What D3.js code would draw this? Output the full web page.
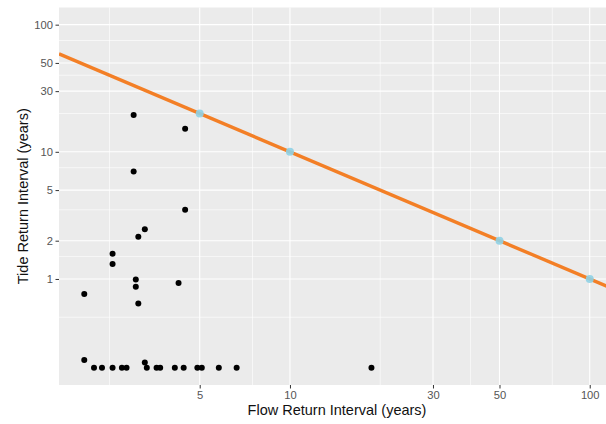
<!DOCTYPE html>
<html>
<head>
<meta charset="utf-8">
<script src="https://cdn.jsdelivr.net/npm/d3@7"></script>
<style>
	body { margin: 0; background: #fff; }
	text { font-family: "Liberation Sans", Arial, sans-serif; }
</style>
</head>
<body>
<svg></svg>
<script>
// observed events (return intervals in years)
const flowRI = [2.06, 2.06, 2.22, 2.36, 2.56, 2.56, 2.56, 2.75, 2.85, 3.01,
	3.01, 3.06, 3.06, 3.12, 3.12, 3.28, 3.28, 3.33, 3.59, 3.69,
	4.13, 4.25, 4.42, 4.47, 4.47, 4.91, 5.08, 5.79, 6.64, 18.7];
const tideRI = [0.76, 0.23, 0.2, 0.2, 0.2, 1.58, 1.31, 0.2, 0.2, 19.5,
	7.0, 0.99, 0.87, 0.64, 2.15, 2.46, 0.22, 0.2, 0.2, 0.2,
	0.2, 0.93, 0.2, 15.2, 3.51, 0.2, 0.2, 0.2, 0.2, 0.2];

// design combinations on the joint curve
const designFlow = [5, 10, 50, 100];
const designTide = [20, 10, 2, 1];

const xBreaks = [5, 10, 30, 50, 100];
const xMinor = [2.5, 7.5, 20, 40, 75];
const yBreaks = [1, 2, 5, 10, 30, 50, 100];
const yMinor = [0.5, 1.5, 3.5, 7.5, 20, 40, 75];
const xLim = [2.06, 100];
const yLim = [0.2, 100];

const width = 606;
const height = 424;
const panel = {left: 59, right: 615, top: 7.5, bottom: 385};

// ggplot style 5% expansion in log space
function expand(lim) {
	const a = Math.log10(lim[0]), b = Math.log10(lim[1]);
	const e = (b - a) * 0.05;
	return [Math.pow(10, a - e), Math.pow(10, b + e)];
}

const x = d3.scaleLog().domain(expand(xLim)).range([panel.left, panel.right]);
const y = d3.scaleLog().domain(expand(yLim)).range([panel.bottom, panel.top]);

const svg = d3.select('svg')
	.attr('width', width)
	.attr('height', height);

svg.append('defs').append('clipPath')
	.attr('id', 'clip')
	.append('rect')
		.attr('x', panel.left)
		.attr('y', panel.top)
		.attr('width', panel.right - panel.left)
		.attr('height', panel.bottom - panel.top);

svg.append('rect')
	.attr('x', panel.left)
	.attr('y', panel.top)
	.attr('width', panel.right - panel.left)
	.attr('height', panel.bottom - panel.top)
	.attr('fill', '#ebebeb');

const grid = svg.append('g');

grid.selectAll('.yminor')
	.data(yMinor)
	.enter().append('line')
		.attr('x1', panel.left).attr('x2', panel.right)
		.attr('y1', d => y(d)).attr('y2', d => y(d))
		.attr('stroke', '#fff').attr('stroke-width', 0.6);

grid.selectAll('.xminor')
	.data(xMinor)
	.enter().append('line')
		.attr('y1', panel.top).attr('y2', panel.bottom)
		.attr('x1', d => x(d)).attr('x2', d => x(d))
		.attr('stroke', '#fff').attr('stroke-width', 0.6);

grid.selectAll('.ymajor')
	.data(yBreaks)
	.enter().append('line')
		.attr('x1', panel.left).attr('x2', panel.right)
		.attr('y1', d => y(d)).attr('y2', d => y(d))
		.attr('stroke', '#fff').attr('stroke-width', 1.1);

grid.selectAll('.xmajor')
	.data(xBreaks)
	.enter().append('line')
		.attr('y1', panel.top).attr('y2', panel.bottom)
		.attr('x1', d => x(d)).attr('x2', d => x(d))
		.attr('stroke', '#fff').attr('stroke-width', 1.1);

// axes
const xAxis = svg.append('g')
	.attr('transform', `translate(0,${panel.bottom})`)
	.call(d3.axisBottom(x).tickValues(xBreaks).tickFormat(d3.format('d')).tickSize(3.5).tickPadding(2.5));
const yAxis = svg.append('g')
	.attr('transform', `translate(${panel.left},0)`)
	.call(d3.axisLeft(y).tickValues(yBreaks).tickFormat(d3.format('d')).tickSize(3.5).tickPadding(2.5));

[xAxis, yAxis].forEach(g => {
	g.select('.domain').remove();
	g.selectAll('.tick line').attr('stroke', '#333').attr('stroke-width', 1);
	g.selectAll('.tick text')
		.attr('fill', '#555')
		.attr('font-size', 11.2)
		.attr('font-family', '"Liberation Sans", Arial, sans-serif');
});

svg.append('text')
	.attr('x', (panel.left + panel.right) / 2)
	.attr('y', 415)
	.attr('text-anchor', 'middle')
	.attr('font-size', 14.5)
	.attr('fill', '#111')
	.text('Flow Return Interval (years)');

svg.append('text')
	.attr('transform', `translate(28,${(panel.top + panel.bottom) / 2}) rotate(-90)`)
	.attr('text-anchor', 'middle')
	.attr('font-size', 14.5)
	.attr('fill', '#111')
	.text('Tide Return Interval (years)');

const plot = svg.append('g').attr('clip-path', 'url(#clip)');

const events = flowRI.map((f, i) => ({f: f, t: tideRI[i]}));
plot.selectAll('.event')
	.data(events)
	.enter().append('circle')
		.attr('cx', d => x(d.f))
		.attr('cy', d => y(d.t))
		.attr('r', 3)
		.attr('fill', '#000');

// joint curve through the design points, extended across the panel
const n = designFlow.length - 1;
const slope = Math.log10(designTide[n] / designTide[0]) / Math.log10(designFlow[n] / designFlow[0]);
const curveAt = f => designTide[0] * Math.pow(f / designFlow[0], slope);
const xd = x.domain();
plot.append('line')
	.attr('x1', x(xd[0])).attr('y1', y(curveAt(xd[0])))
	.attr('x2', x(xd[1])).attr('y2', y(curveAt(xd[1])))
	.attr('stroke', '#f37f26')
	.attr('stroke-width', 3.4);

plot.selectAll('.design')
	.data(designFlow)
	.enter().append('circle')
		.attr('cx', d => x(d))
		.attr('cy', (d, i) => y(designTide[i]))
		.attr('r', 4)
		.attr('fill', '#8fd2e6')
		.attr('opacity', 0.9);
</script>
</body>
</html>
